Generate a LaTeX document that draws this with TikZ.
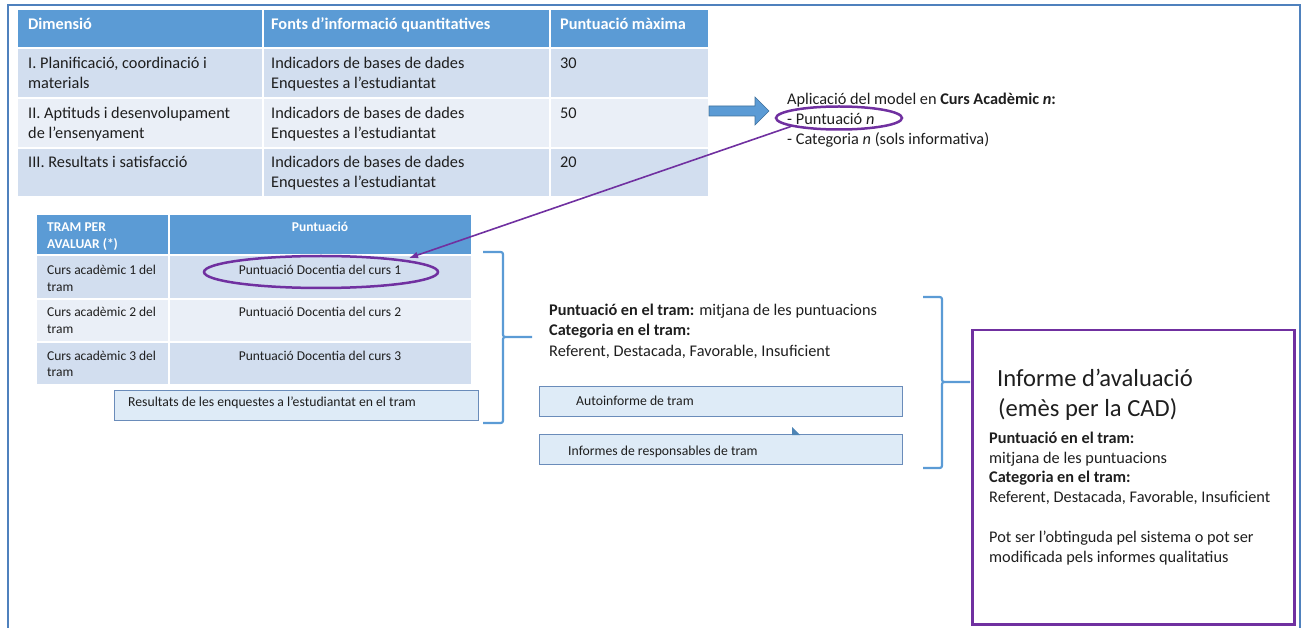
\documentclass[tikz,border=0pt]{standalone}
\usepackage{fontspec}
\setmainfont{Carlito}
\usetikzlibrary{arrows.meta,shapes.geometric}
\definecolor{hdr}{HTML}{5B9BD5}
\definecolor{rowa}{HTML}{D2DEEF}
\definecolor{rowb}{HTML}{EAEFF7}
\definecolor{boxf}{HTML}{DEEBF7}
\definecolor{boxd}{HTML}{6A8CBA}
\definecolor{purp}{HTML}{7030A0}
\definecolor{framec}{HTML}{4F81BD}
\definecolor{arrowd}{HTML}{41719C}
\definecolor{txt}{HTML}{1E1E1E}
\tikzset{
  tA/.style={font=\fontsize{16.3}{20}\selectfont, inner sep=0, anchor=base west, text=txt},
  tAh/.style={tA, font=\fontsize{16.3}{20}\selectfont\bfseries, text=white},
  tB/.style={font=\fontsize{13.5}{17}\selectfont, inner sep=0, anchor=base west, text=txt},
  tBh/.style={tB, font=\fontsize{13.5}{17}\selectfont\bfseries, text=white},
  tC/.style={font=\fontsize{13.7}{17}\selectfont, inner sep=0, anchor=base west, text=txt},
  tBig/.style={font=\fontsize{24.6}{30}\selectfont, inner sep=0, anchor=base west, text=txt},
  boxst/.style={draw=boxd, fill=boxf, line width=0.9, anchor=north west, inner sep=0},
  bracest/.style={draw=hdr, line width=2.2, line join=round},
  purpring/.style={ellipse, draw=purp, line width=2.5, inner sep=0},
}
\begin{document}
\begin{tikzpicture}[x=1pt,y=-1pt]
\useasboundingbox (0,0) rectangle (1304,628);
% outer frame
\draw[framec, line width=2] (8,628) -- (8,5) -- (1300,5) -- (1300,628);

% ---------- top table ----------
\fill[hdr] (18,10) rectangle (262,47);
\fill[hdr] (264,10) rectangle (549,47);
\fill[hdr] (551,10) rectangle (708,47);
\fill[rowa] (18,49) rectangle (262,97);
\fill[rowa] (264,49) rectangle (549,97);
\fill[rowa] (551,49) rectangle (708,97);
\fill[rowb] (18,99) rectangle (262,147);
\fill[rowb] (264,99) rectangle (549,147);
\fill[rowb] (551,99) rectangle (708,147);
\fill[rowa] (18,149) rectangle (262,196);
\fill[rowa] (264,149) rectangle (549,196);
\fill[rowa] (551,149) rectangle (708,196);

\node[tAh] (h1) at (28,30) {Dimensió};
\node[tAh] (h2) at (271,30) {Fonts d’informació quantitatives};
\node[tAh] (h3) at (560,30) {Puntuació màxima};

\node[tA] (r1a) at (28,69) {I. Planificació, coordinació i};
\node[tA] (r1b) at (28,89) {materials};
\node[tA] (r1c) at (271,69) {Indicadors de bases de dades};
\node[tA] (r1d) at (271,89) {Enquestes a l’estudiantat};
\node[tA] (r1e) at (560,69) {30};

\node[tA] (r2a) at (28,119) {II. Aptituds i desenvolupament};
\node[tA] (r2b) at (28,139) {de l’ensenyament};
\node[tA] (r2c) at (271,119) {Indicadors de bases de dades};
\node[tA] (r2d) at (271,139) {Enquestes a l’estudiantat};
\node[tA] (r2e) at (560,119) {50};

\node[tA] (r3a) at (28,168) {III. Resultats i satisfacció};
\node[tA] (r3c) at (271,168) {Indicadors de bases de dades};
\node[tA] (r3d) at (271,188) {Enquestes a l’estudiantat};
\node[tA] (r3e) at (560,168) {20};

% block arrow
\filldraw[fill=hdr, draw=arrowd, line width=0.6] (709,106) -- (755,106) -- (755,97) -- (769,111) -- (755,125) -- (755,116) -- (709,116) -- cycle;

% application text
\node[tA] (ap1) at (787,105) {Aplicació del model en \textbf{Curs Acadèmic \textit{n}:}};
\node[tA] (ap2) at (787,125) {- Puntuació \textit{n}};
\node[tA] (ap3) at (787,145) {- Categoria \textit{n} (sols informativa)};
\node[purpring, minimum width=126, minimum height=23] (e1) at (839,118) {};

% ---------- lower table ----------
\fill[hdr] (37,215) rectangle (168,254);
\fill[hdr] (170,215) rectangle (471,254);
\fill[rowa] (37,256) rectangle (168,298);
\fill[rowa] (170,256) rectangle (471,298);
\fill[rowb] (37,300) rectangle (168,341);
\fill[rowb] (170,300) rectangle (471,341);
\fill[rowa] (37,343) rectangle (168,384);
\fill[rowa] (170,343) rectangle (471,384);

\node[tBh] (lh1) at (47,232) {TRAM PER};
\node[tBh] (lh2) at (47,249) {AVALUAR (*)};
\node[tBh, anchor=base] (lh3) at (320,232) {Puntuació};

\node[tB] (c1a) at (47,275) {Curs acadèmic 1 del};
\node[tB] (c1b) at (47,292) {tram};
\node[tB, anchor=base] (p1) at (320,275) {Puntuació Docentia del curs 1};
\node[tB] (c2a) at (47,317) {Curs acadèmic 2 del};
\node[tB] (c2b) at (47,334) {tram};
\node[tB, anchor=base] (p2) at (320,317) {Puntuació Docentia del curs 2};
\node[tB] (c3a) at (47,360) {Curs acadèmic 3 del};
\node[tB] (c3b) at (47,377) {tram};
\node[tB, anchor=base] (p3) at (320,360) {Puntuació Docentia del curs 3};

\node[purpring, minimum width=234, minimum height=32] (e2) at (321,272) {};
\coordinate (tip) at (409,258);
\draw[purp, line width=1.6, -{Latex[length=9,width=7]}] (e1.190) -- (tip);

% survey box
\node[boxst, minimum width=364, minimum height=30] (resb) at (114,390) {};
\node[tC] (rest) at (128,406) {Resultats de les enquestes a l’estudiantat en el tram};

% brace 1
\draw[bracest] (483,252) -- (498,252) .. controls (503,252) .. (503,257) -- (503,332) .. controls (503,337) .. (508,337) -- (532,337)
  (508,337) .. controls (503,337) .. (503,342) -- (503,418) .. controls (503,423) .. (498,423) -- (483,423);

% middle text
\node[tA] (m1) at (549,316) {\textbf{Puntuació en el tram:} mitjana de les puntuacions};
\node[tA] (m2) at (549,336) {\textbf{Categoria en el tram:}};
\node[tA] (m3) at (549,356) {Referent, Destacada, Favorable, Insuficient};

\node[boxst, minimum width=363, minimum height=30] (autob) at (539,386) {};
\node[tC] (autot) at (576,405) {Autoinforme de tram};
\node[boxst, minimum width=363, minimum height=30] (infb) at (539,434) {};
\node[tC] (inft) at (568,455) {Informes de responsables de tram};
\fill[hdr!85!black] (792,427) -- (792,435) -- (800,435) -- cycle;

% brace 2
\draw[bracest] (923,297) -- (937,297) .. controls (942,297) .. (942,302) -- (942,377) .. controls (942,382) .. (947,382) -- (970,382)
  (947,382) .. controls (942,382) .. (942,387) -- (942,463) .. controls (942,468) .. (937,468) -- (923,468);

% informe box
\node[draw=purp, line width=2.5, minimum width=322, minimum height=294, anchor=north west, inner sep=0] (infbox) at (971,329) {};
\node[tBig] (i1) at (997,386) {Informe d’avaluació};
\node[tBig] (i2) at (998,416) {(emès per la CAD)};
\node[tA] (i3) at (989,443) {\textbf{Puntuació en el tram:}};
\node[tA] (i4) at (989,463) {mitjana de les puntuacions};
\node[tA] (i5) at (989,482) {\textbf{Categoria en el tram:}};
\node[tA] (i6) at (989,502) {Referent, Destacada, Favorable, Insuficient};
\node[tA] (i7) at (989,542) {Pot ser l’obtinguda pel sistema o pot ser};
\node[tA] (i8) at (989,562) {modificada pels informes qualitatius};
\end{tikzpicture}
\end{document}
